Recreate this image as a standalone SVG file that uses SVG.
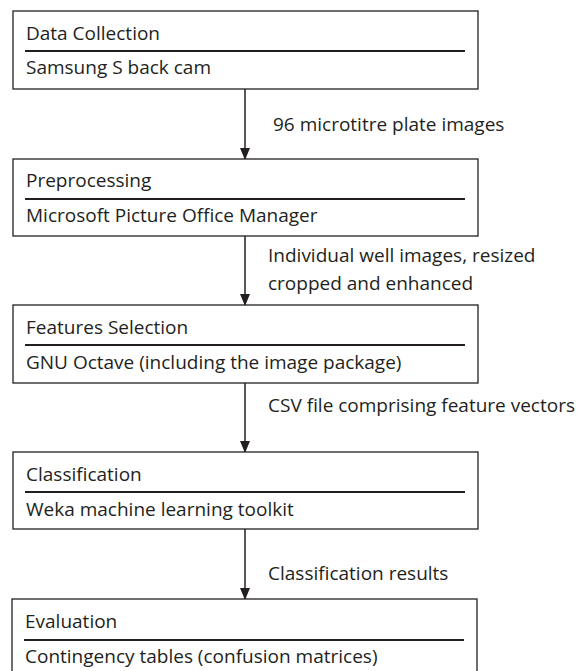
<svg xmlns="http://www.w3.org/2000/svg" width="578" height="671" viewBox="0 0 578 671">
<defs>
<marker id="ah" markerWidth="12" markerHeight="12" refX="11" refY="6" orient="auto" markerUnits="userSpaceOnUse">
<path d="M0,1 L12,6 L0,11 Z" fill="#231f20"/>
</marker>
<style>
.box{fill:#fff;stroke:#231f20;stroke-width:1.3}
.div{stroke:#231f20;stroke-width:2}
.t{font-family:"Open Sans","Liberation Sans",sans-serif;font-size:19px;fill:#231f20}
.c{stroke:#231f20;stroke-width:1.5;fill:none}
</style>
</defs>
<rect width="578" height="671" fill="#fff"/>
<g id="connectors">
<line class="c" x1="245" y1="89" x2="245" y2="159" marker-end="url(#ah)"/>
<line class="c" x1="245" y1="236" x2="245" y2="305" marker-end="url(#ah)"/>
<line class="c" x1="245" y1="383" x2="245" y2="452" marker-end="url(#ah)"/>
<line class="c" x1="245" y1="529" x2="245" y2="599" marker-end="url(#ah)"/>
<text class="t" x="273" y="131">96 microtitre plate images</text>
<text class="t" x="268" y="262">Individual well images, resized</text>
<text class="t" x="268" y="290">cropped and enhanced</text>
<text class="t" x="268" y="412">CSV file comprising feature vectors</text>
<text class="t" x="268" y="580">Classification results</text>
</g>
<g id="n1">
<rect class="box" x="13" y="11" width="465" height="78"/>
<text class="t" x="26" y="40">Data Collection</text>
<line class="div" x1="25" y1="51" x2="465" y2="51"/>
<text class="t" x="26" y="74">Samsung S back cam</text>
</g>
<g id="n2">
<rect class="box" x="13" y="159" width="465" height="77"/>
<text class="t" x="26" y="187">Preprocessing</text>
<line class="div" x1="25" y1="199" x2="465" y2="199"/>
<text class="t" x="26" y="222">Microsoft Picture Office Manager</text>
</g>
<g id="n3">
<rect class="box" x="13" y="305" width="465" height="78"/>
<text class="t" x="26" y="334">Features Selection</text>
<line class="div" x1="25" y1="345" x2="465" y2="345"/>
<text class="t" x="26" y="369">GNU Octave (including the image package)</text>
</g>
<g id="n4">
<rect class="box" x="13" y="452" width="465" height="77"/>
<text class="t" x="26" y="481">Classification</text>
<line class="div" x1="25" y1="492" x2="465" y2="492"/>
<text class="t" x="26" y="516">Weka machine learning toolkit</text>
</g>
<g id="n5">
<rect class="box" x="12" y="599" width="465" height="80"/>
<text class="t" x="25" y="628">Evaluation</text>
<line class="div" x1="24" y1="640" x2="464" y2="640"/>
<text class="t" x="25" y="663">Contingency tables (confusion matrices)</text>
</g>
</svg>
